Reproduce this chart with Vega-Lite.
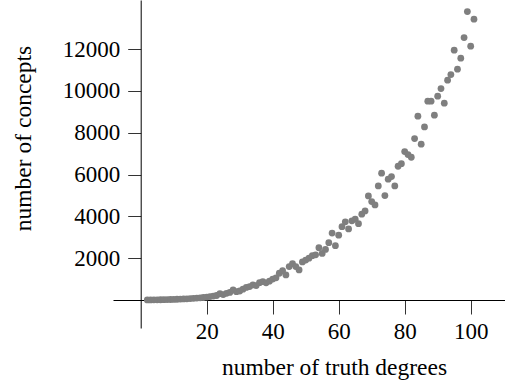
{
  "$schema": "https://vega.github.io/schema/vega-lite/v6.json",
  "width": 392,
  "height": 328,
  "autosize": "none",
  "padding": {"left": 113, "top": 0, "right": 0, "bottom": 57},
  "background": "white",
  "config": {
    "view": {"stroke": null},
    "font": "Liberation Serif"
  },
  "data": {
    "values": [
      {"degrees": 2, "concepts": 3}, {"degrees": 3, "concepts": 5}, {"degrees": 4, "concepts": 7},
      {"degrees": 5, "concepts": 9}, {"degrees": 6, "concepts": 12}, {"degrees": 7, "concepts": 15},
      {"degrees": 8, "concepts": 19}, {"degrees": 9, "concepts": 24}, {"degrees": 10, "concepts": 29},
      {"degrees": 11, "concepts": 35}, {"degrees": 12, "concepts": 42}, {"degrees": 13, "concepts": 50},
      {"degrees": 14, "concepts": 58}, {"degrees": 15, "concepts": 68}, {"degrees": 16, "concepts": 80},
      {"degrees": 17, "concepts": 90}, {"degrees": 18, "concepts": 105}, {"degrees": 19, "concepts": 120},
      {"degrees": 20, "concepts": 140}, {"degrees": 21, "concepts": 165}, {"degrees": 22, "concepts": 190},
      {"degrees": 23, "concepts": 215}, {"degrees": 24, "concepts": 300}, {"degrees": 25, "concepts": 260},
      {"degrees": 26, "concepts": 320}, {"degrees": 27, "concepts": 360}, {"degrees": 28, "concepts": 480},
      {"degrees": 29, "concepts": 400}, {"degrees": 30, "concepts": 430}, {"degrees": 31, "concepts": 520},
      {"degrees": 32, "concepts": 600}, {"degrees": 33, "concepts": 640}, {"degrees": 34, "concepts": 720},
      {"degrees": 35, "concepts": 690}, {"degrees": 36, "concepts": 830}, {"degrees": 37, "concepts": 880},
      {"degrees": 38, "concepts": 820}, {"degrees": 39, "concepts": 900}, {"degrees": 40, "concepts": 1000},
      {"degrees": 41, "concepts": 1060}, {"degrees": 42, "concepts": 1280}, {"degrees": 43, "concepts": 1400},
      {"degrees": 44, "concepts": 1200}, {"degrees": 45, "concepts": 1600}, {"degrees": 46, "concepts": 1740},
      {"degrees": 47, "concepts": 1600}, {"degrees": 48, "concepts": 1440}, {"degrees": 49, "concepts": 1820},
      {"degrees": 50, "concepts": 1910}, {"degrees": 51, "concepts": 2000}, {"degrees": 52, "concepts": 2120},
      {"degrees": 53, "concepts": 2160}, {"degrees": 54, "concepts": 2500}, {"degrees": 55, "concepts": 2230},
      {"degrees": 56, "concepts": 2420}, {"degrees": 57, "concepts": 2740}, {"degrees": 58, "concepts": 3200},
      {"degrees": 59, "concepts": 2600}, {"degrees": 60, "concepts": 3100}, {"degrees": 61, "concepts": 3510},
      {"degrees": 62, "concepts": 3740}, {"degrees": 63, "concepts": 3400}, {"degrees": 64, "concepts": 3790},
      {"degrees": 65, "concepts": 3866}, {"degrees": 66, "concepts": 3650}, {"degrees": 67, "concepts": 4105},
      {"degrees": 68, "concepts": 4263}, {"degrees": 69, "concepts": 4981}, {"degrees": 70, "concepts": 4708},
      {"degrees": 71, "concepts": 4550}, {"degrees": 72, "concepts": 5459}, {"degrees": 73, "concepts": 6067},
      {"degrees": 74, "concepts": 4995}, {"degrees": 75, "concepts": 5780}, {"degrees": 76, "concepts": 5904},
      {"degrees": 77, "concepts": 5459}, {"degrees": 78, "concepts": 6400}, {"degrees": 79, "concepts": 6520},
      {"degrees": 80, "concepts": 7100}, {"degrees": 81, "concepts": 6960}, {"degrees": 82, "concepts": 6830},
      {"degrees": 83, "concepts": 7722}, {"degrees": 84, "concepts": 8794}, {"degrees": 85, "concepts": 7455},
      {"degrees": 86, "concepts": 8282}, {"degrees": 87, "concepts": 9512}, {"degrees": 88, "concepts": 9512},
      {"degrees": 89, "concepts": 8842}, {"degrees": 90, "concepts": 9751}, {"degrees": 91, "concepts": 10115},
      {"degrees": 92, "concepts": 9416}, {"degrees": 93, "concepts": 10517}, {"degrees": 94, "concepts": 10785},
      {"degrees": 95, "concepts": 11952}, {"degrees": 96, "concepts": 11043}, {"degrees": 97, "concepts": 11569},
      {"degrees": 98, "concepts": 12555}, {"degrees": 99, "concepts": 13799}, {"degrees": 100, "concepts": 12144},
      {"degrees": 101, "concepts": 13435}
    ]
  },
  "mark": {"type": "point", "filled": true, "shape": "circle", "size": 46, "opacity": 1, "color": "#7f7f7f"},
  "encoding": {
    "x": {
      "field": "degrees",
      "type": "quantitative",
      "scale": {"domain": [-8.4, 110.4], "nice": false, "zero": false},
      "axis": {
        "title": "number of truth degrees",
        "offset": -28,
        "values": [20, 40, 60, 80, 100],
        "format": "d",
        "grid": false,
        "domainColor": "#000000",
        "domainWidth": 1,
        "tickColor": "#333333",
        "tickWidth": 1,
        "tickSize": 14,
        "labelPadding": 6,
        "labelFont": "Liberation Serif",
        "labelFontSize": 23,
        "labelColor": "#000000",
        "titleFont": "Liberation Serif",
        "titleFontSize": 23.5,
        "titleFontWeight": "normal",
        "titleColor": "#000000",
        "titleBaseline": "alphabetic",
        "titleAlign": "center",
        "titleX": 221,
        "titleY": 74
      }
    },
    "y": {
      "field": "concepts",
      "type": "quantitative",
      "scale": {"domain": [-1340, 14354], "nice": false, "zero": false},
      "axis": {
        "title": "number of concepts",
        "offset": -27.7,
        "values": [2000, 4000, 6000, 8000, 10000, 12000],
        "format": "d",
        "grid": false,
        "domainColor": "#000000",
        "domainWidth": 1,
        "tickColor": "#333333",
        "tickWidth": 1,
        "tickSize": 13,
        "labelPadding": 8,
        "labelFont": "Liberation Serif",
        "labelFontSize": 23,
        "labelColor": "#000000",
        "titleFont": "Liberation Serif",
        "titleFontSize": 23.5,
        "titleFontWeight": "normal",
        "titleColor": "#000000",
        "titleBaseline": "alphabetic",
        "titleAlign": "center",
        "titleAngle": 270,
        "titleX": -110,
        "titleY": 138
      }
    }
  }
}
